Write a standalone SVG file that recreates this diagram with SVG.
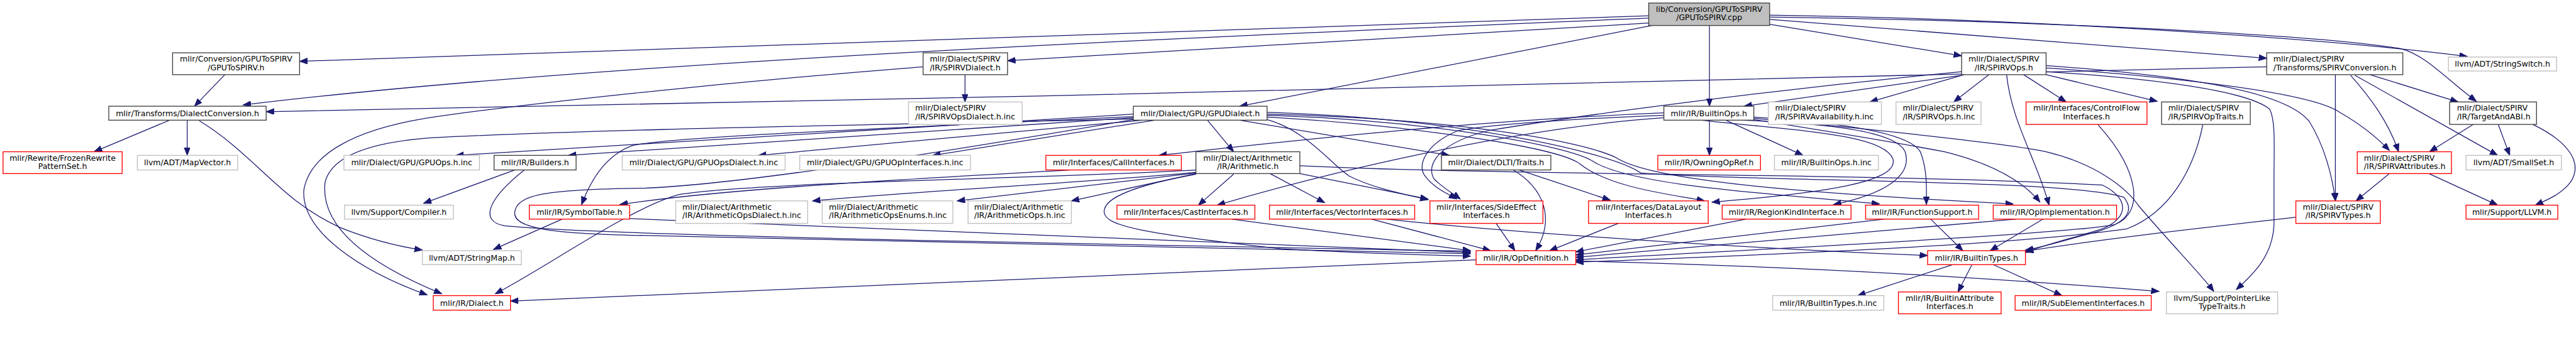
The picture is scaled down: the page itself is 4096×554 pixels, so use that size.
<svg xmlns="http://www.w3.org/2000/svg" width="4096" height="554" viewBox="0 0 4096 554">
<defs>
<style>
.e{fill:none;stroke:#191970;stroke-width:1.3;marker-end:url(#ah)}
.nb{fill:#fff;stroke:#404040;stroke-width:1.4}
.ng{fill:#fff;stroke:#bfbfbf;stroke-width:1.4}
.nr{fill:#fff;stroke:#ff0000;stroke-width:1.4}
.root{fill:#bfbfbf;stroke:#404040;stroke-width:1.4}
text{font-family:"DejaVu Sans","Liberation Sans",sans-serif;font-size:13px;fill:#000}
.c{text-anchor:middle}
</style>
<marker id="ah" markerUnits="userSpaceOnUse" markerWidth="14" markerHeight="11" refX="13" refY="5" orient="auto">
<path d="M0,0 L13,5 L0,10 Z" fill="#191970" stroke="#191970" stroke-width="1"/>
</marker>
</defs>
<rect width="4096" height="554" fill="#fff"/>
<g transform="scale(0.96627)">
<g id="edges">
<path class="e" d="M2713,26 L493,101"/>
<path class="e" d="M2713,30 C2000,60 1000,100 400,173"/>
<path class="e" d="M2713,38 L1658,100"/>
<path class="e" d="M2718,42 L2040,175"/>
<path class="e" d="M2813,42 L2813,175"/>
<path class="e" d="M2912,40 L3228,92"/>
<path class="e" d="M2912,32 L3730,96"/>
<path class="e" d="M2912,25 C3300,30 3800,60 4060,93"/>
<path class="e" d="M2912,28 C3300,33 3800,55 3950,80 C3990,90 4020,125 4075,167"/>
<path class="e" d="M370,123 L320,175"/>
<path class="e" d="M279,198 L155,250"/>
<path class="e" d="M308,198 L308,256"/>
<path class="e" d="M328,199 C420,255 460,330 560,375 C610,395 650,405 695,412"/>
<path class="e" d="M1588,123 L1588,168"/>
<path class="e" d="M1519,110 C1200,135 850,172 700,195 C580,215 510,255 500,313 C495,380 590,445 703,486"/>
<path class="e" d="M3730,110 C3000,120 1500,170 438,184"/>
<path class="e" d="M3843,123 L3843,331"/>
<path class="e" d="M3868,124 C3900,160 3930,200 3947,250"/>
<path class="e" d="M3875,124 L4110,256"/>
<path class="e" d="M3900,123 L4045,168"/>
<path class="e" d="M4070,205 L3998,250"/>
<path class="e" d="M4111,205 L4130,256"/>
<path class="e" d="M4168,205 C4230,235 4250,270 4230,300 C4215,320 4190,330 4172,338"/>
<path class="e" d="M3932,286 L3877,331"/>
<path class="e" d="M3997,286 L4110,338"/>
<path class="e" d="M3778,358 C3600,378 3450,395 3333,414"/>
<path class="e" d="M3228,124 L2870,175"/>
<path class="e" d="M3232,123 L3077,168"/>
<path class="e" d="M3273,123 L3215,168"/>
<path class="e" d="M3302,123 C3310,200 3350,260 3372,338"/>
<path class="e" d="M3330,123 L3400,168"/>
<path class="e" d="M3367,123 L3550,167"/>
<path class="e" d="M3367,108 C3600,125 3760,150 3800,200 C3825,240 3838,290 3843,331"/>
<path class="e" d="M3367,112 C3550,125 3800,150 3850,185 C3885,205 3910,225 3932,248"/>
<path class="e" d="M3367,118 C3550,130 3700,150 3735,180 C3745,200 3742,240 3742,300 L3742,370 C3740,420 3710,450 3680,477"/>
<path class="e" d="M3228,118 C2900,150 2600,190 2450,215 C2370,235 2345,270 2360,295 C2375,310 2390,318 2403,328"/>
<path class="e" d="M2738,190 C2600,195 2450,205 2400,215 C2350,235 2330,270 2345,290 C2360,310 2380,318 2397,328"/>
<path class="e" d="M2813,198 L2813,256"/>
<path class="e" d="M2840,198 L2967,256"/>
<path class="e" d="M2738,186 C2400,200 2100,235 1907,256"/>
<path class="e" d="M2738,194 C2500,210 2200,280 2003,338"/>
<path class="e" d="M2800,198 C2950,215 3100,220 3115,262 C3125,300 3000,318 2817,333"/>
<path class="e" d="M2867,198 C3000,203 3120,215 3135,250 C3148,290 3100,320 3017,337"/>
<path class="e" d="M2886,193 C3000,200 3140,215 3160,250 C3172,280 3170,310 3170,337"/>
<path class="e" d="M2886,197 C3000,215 3120,235 3200,250 C3280,270 3330,300 3357,333"/>
<path class="e" d="M2886,195 C3000,205 3300,235 3367,250 C3450,270 3500,310 3520,340 C3580,410 3620,450 3643,480"/>
<path class="e" d="M1968,284 C1800,300 1500,315 1337,331"/>
<path class="e" d="M1968,285 L1575,331"/>
<path class="e" d="M1968,286 L1763,331"/>
<path class="e" d="M2030,287 L1972,338"/>
<path class="e" d="M2090,286 L2180,334"/>
<path class="e" d="M2139,286 L2350,328"/>
<path class="e" d="M1968,287 C1870,305 1815,325 1817,350 C1819,372 1880,385 2110,410 C2250,418 2350,420 2420,422"/>
<path class="e" d="M1968,280 C1700,295 1250,300 1120,320 C1040,340 900,440 815,484"/>
<path class="e" d="M2139,273 C2500,290 3100,285 3460,305 C3510,330 3500,365 3450,380 C3400,395 3360,405 3333,416"/>
<path class="e" d="M2257,361 L2453,413"/>
<path class="e" d="M2282,361 C2500,385 2900,410 3172,421"/>
<path class="e" d="M2027,361 L2420,413"/>
<path class="e" d="M2462,368 L2493,413"/>
<path class="e" d="M2500,280 L2650,330"/>
<path class="e" d="M2490,280 C2540,310 2560,360 2527,413"/>
<path class="e" d="M2663,368 L2550,413"/>
<path class="e" d="M2873,361 L2593,415"/>
<path class="e" d="M3100,361 L2593,420"/>
<path class="e" d="M3177,361 L3230,413"/>
<path class="e" d="M3317,361 L2593,424"/>
<path class="e" d="M3362,361 L3275,413"/>
<path class="e" d="M3452,205 C3520,280 3530,350 3480,370 C3400,385 3000,405 2593,428"/>
<path class="e" d="M3625,205 C3610,280 3570,350 3500,377 C3300,405 2900,420 2593,432"/>
<path class="e" d="M2429,428 L840,496"/>
<path class="e" d="M2593,430 C3000,440 3300,460 3553,480"/>
<path class="e" d="M3213,436 L3057,487"/>
<path class="e" d="M3245,436 L3222,481"/>
<path class="e" d="M3280,436 L3393,487"/>
<path class="e" d="M1865,188 L750,256"/>
<path class="e" d="M1865,194 L935,256"/>
<path class="e" d="M1880,198 L1248,256"/>
<path class="e" d="M1900,198 L1535,256"/>
<path class="e" d="M1987,198 L2030,250"/>
<path class="e" d="M2040,198 L2385,256"/>
<path class="e" d="M1865,192 C1500,210 1100,225 1040,240 C1000,255 975,290 957,337"/>
<path class="e" d="M1865,196 C1500,205 1000,212 710,227 C600,235 545,260 535,300 C525,380 620,440 727,484"/>
<path class="e" d="M1865,197 C1500,260 1200,305 1060,310 C900,312 850,320 847,350 C845,375 900,385 1060,388 C1600,400 2100,410 2420,418"/>
<path class="e" d="M2085,197 C2150,215 2190,270 2220,290 C2260,310 2310,320 2350,329"/>
<path class="e" d="M2085,188 C2380,195 2600,230 2660,260 C2720,300 3000,320 3313,336"/>
<path class="e" d="M2085,190 C2350,198 2580,240 2620,265 C2680,305 2900,318 3093,336"/>
<path class="e" d="M2085,193 C2300,205 2560,240 2600,270 C2650,310 2750,320 2805,331"/>
<path class="e" d="M2085,185 C2400,195 2650,250 2700,285 C2900,300 3400,295 3495,325 C3515,350 3495,368 3450,382 C3400,395 3360,408 3333,412"/>
<path class="e" d="M1760,280 C1500,295 1200,310 1020,337"/>
<path class="e" d="M847,280 L697,335"/>
<path class="e" d="M863,280 C800,330 790,365 830,372 C1000,390 2000,405 2420,414"/>
<path class="e" d="M925,361 L812,411"/>
<path class="e" d="M1033,360 L2420,416"/>
</g>
<g id="n0"><rect class="root" x="2713" y="5" width="199" height="37"/><text class="c" x="2812.5" y="19.5">lib/Conversion/GPUToSPIRV</text><text class="c" x="2812.5" y="33.5">/GPUToSPIRV.cpp</text></g>
<g id="n1"><rect class="nb" x="284" y="87" width="209" height="36"/><text class="c" x="388.5" y="101.5">mlir/Conversion/GPUToSPIRV</text><text class="c" x="388.5" y="115.5">/GPUToSPIRV.h</text></g>
<g id="n2"><rect class="nb" x="1519" y="87" width="139" height="36"/><text x="1530" y="101.5">mlir/Dialect/SPIRV</text><text x="1530" y="115.5">/IR/SPIRVDialect.h</text></g>
<g id="n3"><rect class="nb" x="3228" y="87" width="139" height="36"/><text class="c" x="3297.5" y="101.5">mlir/Dialect/SPIRV</text><text class="c" x="3297.5" y="115.5">/IR/SPIRVOps.h</text></g>
<g id="n4"><rect class="nb" x="3730" y="87" width="224" height="36"/><text x="3741" y="101.5">mlir/Dialect/SPIRV</text><text x="3741" y="115.5">/Transforms/SPIRVConversion.h</text></g>
<g id="n5"><rect class="ng" x="4029" y="94" width="178" height="23"/><text class="c" x="4118" y="110">llvm/ADT/StringSwitch.h</text></g>
<g id="n6"><rect class="nb" x="179" y="175" width="259" height="23"/><text class="c" x="308.5" y="191">mlir/Transforms/DialectConversion.h</text></g>
<g id="n7"><rect class="nb" x="1865" y="175" width="220" height="23"/><text class="c" x="1975" y="191">mlir/Dialect/GPU/GPUDialect.h</text></g>
<g id="n8"><rect class="nb" x="2738" y="175" width="148" height="23"/><text class="c" x="2812" y="191">mlir/IR/BuiltinOps.h</text></g>
<g id="n9"><rect class="ng" x="1495" y="168" width="187" height="37"/><text x="1506" y="182.5">mlir/Dialect/SPIRV</text><text x="1506" y="196.5">/IR/SPIRVOpsDialect.h.inc</text></g>
<g id="n10"><rect class="ng" x="2910" y="168" width="186" height="37"/><text x="2921" y="182.5">mlir/Dialect/SPIRV</text><text x="2921" y="196.5">/IR/SPIRVAvailability.h.inc</text></g>
<g id="n11"><rect class="ng" x="3120" y="168" width="140" height="37"/><text x="3131" y="182.5">mlir/Dialect/SPIRV</text><text x="3131" y="196.5">/IR/SPIRVOps.h.inc</text></g>
<g id="n12"><rect class="nr" x="3334" y="168" width="199" height="37"/><text class="c" x="3433.5" y="182.5">mlir/Interfaces/ControlFlow</text><text class="c" x="3433.5" y="196.5">Interfaces.h</text></g>
<g id="n13"><rect class="nb" x="3557" y="168" width="146" height="37"/><text x="3568" y="182.5">mlir/Dialect/SPIRV</text><text x="3568" y="196.5">/IR/SPIRVOpTraits.h</text></g>
<g id="n14"><rect class="nb" x="4031" y="168" width="143" height="37"/><text x="4043" y="182.5">mlir/Dialect/SPIRV</text><text x="4043" y="196.5">/IR/TargetAndABI.h</text></g>
<g id="n15"><rect class="nr" x="5" y="250" width="196" height="36"/><text class="c" x="103" y="264.5">mlir/Rewrite/FrozenRewrite</text><text class="c" x="103" y="278.5">PatternSet.h</text></g>
<g id="n16"><rect class="ng" x="226" y="256" width="165" height="24"/><text class="c" x="308.5" y="272.5">llvm/ADT/MapVector.h</text></g>
<g id="n17"><rect class="ng" x="566" y="256" width="223" height="24"/><text class="c" x="677.5" y="272.5">mlir/Dialect/GPU/GPUOps.h.inc</text></g>
<g id="n18"><rect class="nb" x="813" y="256" width="135" height="24"/><text class="c" x="880.5" y="272.5">mlir/IR/Builders.h</text></g>
<g id="n19"><rect class="ng" x="1024" y="256" width="268" height="24"/><text class="c" x="1158" y="272.5">mlir/Dialect/GPU/GPUOpsDialect.h.inc</text></g>
<g id="n20"><rect class="ng" x="1316" y="256" width="281" height="24"/><text class="c" x="1456.5" y="272.5">mlir/Dialect/GPU/GPUOpInterfaces.h.inc</text></g>
<g id="n21"><rect class="nr" x="1721" y="256" width="223" height="24"/><text class="c" x="1832.5" y="272.5">mlir/Interfaces/CallInterfaces.h</text></g>
<g id="n22"><rect class="nb" x="1968" y="250" width="171" height="36"/><text class="c" x="2053.5" y="264.5">mlir/Dialect/Arithmetic</text><text class="c" x="2053.5" y="278.5">/IR/Arithmetic.h</text></g>
<g id="n23"><rect class="nb" x="2372" y="256" width="180" height="24"/><text class="c" x="2462" y="272.5">mlir/Dialect/DLTI/Traits.h</text></g>
<g id="n24"><rect class="nr" x="2728" y="256" width="169" height="24"/><text class="c" x="2812.5" y="272.5">mlir/IR/OwningOpRef.h</text></g>
<g id="n25"><rect class="ng" x="2920" y="256" width="171" height="24"/><text class="c" x="3005.5" y="272.5">mlir/IR/BuiltinOps.h.inc</text></g>
<g id="n26"><rect class="nr" x="3879" y="250" width="155" height="36"/><text x="3890" y="264.5">mlir/Dialect/SPIRV</text><text x="3890" y="278.5">/IR/SPIRVAttributes.h</text></g>
<g id="n27"><rect class="ng" x="4058" y="256" width="157" height="24"/><text class="c" x="4136.5" y="272.5">llvm/ADT/SmallSet.h</text></g>
<g id="n28"><rect class="ng" x="567" y="338" width="179" height="23"/><text class="c" x="656.5" y="354">llvm/Support/Compiler.h</text></g>
<g id="n29"><rect class="nr" x="871" y="338" width="165" height="23"/><text class="c" x="953.5" y="354">mlir/IR/SymbolTable.h</text></g>
<g id="n30"><rect class="ng" x="1112" y="331" width="217" height="37"/><text x="1123" y="345.5">mlir/Dialect/Arithmetic</text><text x="1123" y="359.5">/IR/ArithmeticOpsDialect.h.inc</text></g>
<g id="n31"><rect class="ng" x="1353" y="331" width="215" height="37"/><text x="1364" y="345.5">mlir/Dialect/Arithmetic</text><text x="1364" y="359.5">/IR/ArithmeticOpsEnums.h.inc</text></g>
<g id="n32"><rect class="ng" x="1593" y="331" width="170" height="37"/><text x="1603" y="345.5">mlir/Dialect/Arithmetic</text><text x="1603" y="359.5">/IR/ArithmeticOps.h.inc</text></g>
<g id="n33"><rect class="nr" x="1838" y="338" width="227" height="23"/><text class="c" x="1951.5" y="354">mlir/Interfaces/CastInterfaces.h</text></g>
<g id="n34"><rect class="nr" x="2089" y="338" width="239" height="23"/><text class="c" x="2208.5" y="354">mlir/Interfaces/VectorInterfaces.h</text></g>
<g id="n35"><rect class="nr" x="2353" y="331" width="186" height="37"/><text class="c" x="2446" y="345.5">mlir/Interfaces/SideEffect</text><text class="c" x="2446" y="359.5">Interfaces.h</text></g>
<g id="n36"><rect class="nr" x="2614" y="331" width="197" height="37"/><text class="c" x="2712.5" y="345.5">mlir/Interfaces/DataLayout</text><text class="c" x="2712.5" y="359.5">Interfaces.h</text></g>
<g id="n37"><rect class="nr" x="2834" y="338" width="212" height="23"/><text class="c" x="2940" y="354">mlir/IR/RegionKindInterface.h</text></g>
<g id="n38"><rect class="nr" x="3070" y="338" width="186" height="23"/><text class="c" x="3163" y="354">mlir/IR/FunctionSupport.h</text></g>
<g id="n39"><rect class="nr" x="3280" y="338" width="203" height="23"/><text class="c" x="3381.5" y="354">mlir/IR/OpImplementation.h</text></g>
<g id="n40"><rect class="nr" x="3778" y="331" width="139" height="37"/><text class="c" x="3847.5" y="345.5">mlir/Dialect/SPIRV</text><text class="c" x="3847.5" y="359.5">/IR/SPIRVTypes.h</text></g>
<g id="n41"><rect class="nr" x="4058" y="338" width="151" height="23"/><text class="c" x="4133.5" y="354">mlir/Support/LLVM.h</text></g>
<g id="n42"><rect class="ng" x="695" y="413" width="163" height="23"/><text class="c" x="776.5" y="429">llvm/ADT/StringMap.h</text></g>
<g id="n43"><rect class="nr" x="2429" y="413" width="164" height="23"/><text class="c" x="2511" y="429">mlir/IR/OpDefinition.h</text></g>
<g id="n44"><rect class="nr" x="3172" y="413" width="161" height="23"/><text class="c" x="3252.5" y="429">mlir/IR/BuiltinTypes.h</text></g>
<g id="n45"><rect class="nr" x="713" y="487" width="127" height="24"/><text class="c" x="776.5" y="503.5">mlir/IR/Dialect.h</text></g>
<g id="n46"><rect class="ng" x="2917" y="487" width="183" height="24"/><text class="c" x="3008.5" y="503.5">mlir/IR/BuiltinTypes.h.inc</text></g>
<g id="n47"><rect class="nr" x="3124" y="481" width="169" height="36"/><text class="c" x="3208.5" y="495.5">mlir/IR/BuiltinAttribute</text><text class="c" x="3208.5" y="509.5">Interfaces.h</text></g>
<g id="n48"><rect class="nr" x="3316" y="487" width="224" height="24"/><text class="c" x="3428" y="503.5">mlir/IR/SubElementInterfaces.h</text></g>
<g id="n49"><rect class="ng" x="3565" y="481" width="183" height="36"/><text class="c" x="3656.5" y="495.5">llvm/Support/PointerLike</text><text class="c" x="3656.5" y="509.5">TypeTraits.h</text></g>
</g>
</svg>
